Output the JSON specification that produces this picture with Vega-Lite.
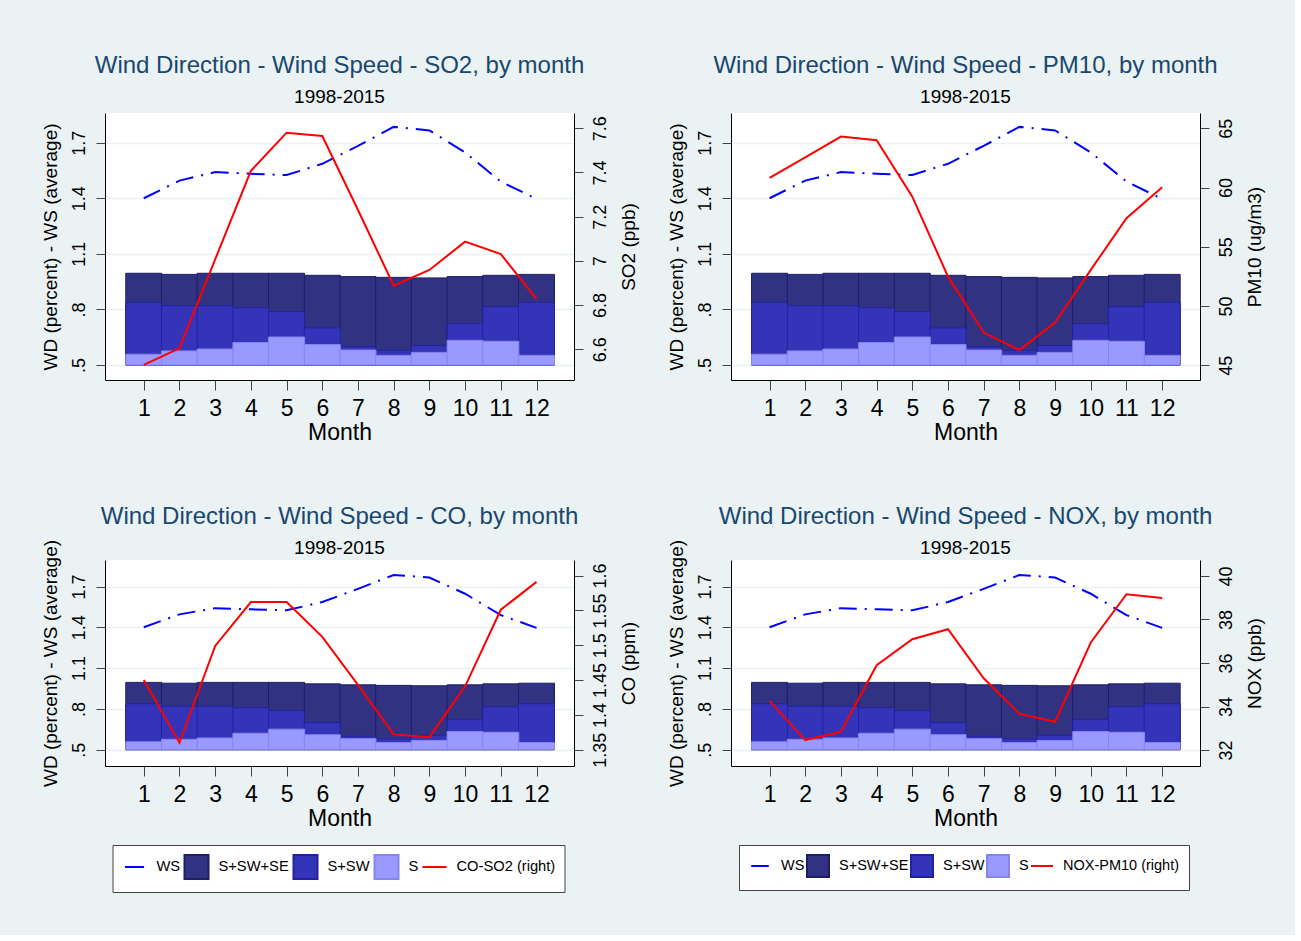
{
  "$schema": "https://vega.github.io/schema/vega-lite/v6.json",
  "background": "#EAF2F3",
  "padding": {"left": 40, "top": 54, "right": 31, "bottom": 42},
  "config": {
    "font": "Liberation Sans, Arial, sans-serif",
    "view": {"stroke": null, "fill": "#ffffff"},
    "title": {"anchor": "middle", "fontSize": 24, "fontWeight": "normal", "color": "#1a476f", "subtitleFontSize": 19, "subtitleColor": "#000000", "subtitlePadding": 10, "offset": 6},
    "axis": {"labelColor": "#000000", "titleColor": "#000000", "titleFontWeight": "normal", "tickColor": "#444444", "domainColor": "#000000", "domainWidth": 1, "tickWidth": 1}
  },
  "data": {"values": [
    {"month": 1, "ws": 1.400, "sswse": 0.995, "ssw": 0.838, "s": 0.558, "so2": 6.529, "pm10": 60.81, "co": 1.450, "nox": 34.26},
    {"month": 2, "ws": 1.495, "sswse": 0.989, "ssw": 0.820, "s": 0.576, "so2": 6.605, "pm10": 62.55, "co": 1.360, "nox": 32.46},
    {"month": 3, "ws": 1.541, "sswse": 0.995, "ssw": 0.820, "s": 0.586, "so2": 7.007, "pm10": 64.30, "co": 1.499, "nox": 32.84},
    {"month": 4, "ws": 1.532, "sswse": 0.995, "ssw": 0.809, "s": 0.621, "so2": 7.407, "pm10": 63.99, "co": 1.562, "nox": 35.90},
    {"month": 5, "ws": 1.525, "sswse": 0.995, "ssw": 0.788, "s": 0.651, "so2": 7.580, "pm10": 59.23, "co": 1.562, "nox": 37.09},
    {"month": 6, "ws": 1.586, "sswse": 0.984, "ssw": 0.700, "s": 0.610, "so2": 7.565, "pm10": 52.48, "co": 1.512, "nox": 37.55},
    {"month": 7, "ws": 1.683, "sswse": 0.977, "ssw": 0.599, "s": 0.581, "so2": 7.230, "pm10": 47.76, "co": 1.443, "nox": 35.30},
    {"month": 8, "ws": 1.785, "sswse": 0.973, "ssw": 0.579, "s": 0.552, "so2": 6.888, "pm10": 46.29, "co": 1.372, "nox": 33.67},
    {"month": 9, "ws": 1.766, "sswse": 0.970, "ssw": 0.606, "s": 0.568, "so2": 6.959, "pm10": 48.60, "co": 1.368, "nox": 33.30},
    {"month": 10, "ws": 1.647, "sswse": 0.977, "ssw": 0.723, "s": 0.633, "so2": 7.087, "pm10": 53.05, "co": 1.441, "nox": 36.94},
    {"month": 11, "ws": 1.490, "sswse": 0.984, "ssw": 0.815, "s": 0.628, "so2": 7.031, "pm10": 57.41, "co": 1.551, "nox": 39.16},
    {"month": 12, "ws": 1.396, "sswse": 0.989, "ssw": 0.838, "s": 0.552, "so2": 6.828, "pm10": 60.02, "co": 1.591, "nox": 38.98}
  ]},
  "columns": 2,
  "spacing": {"row": 61, "column": 28},
  "resolve": {"scale": {"fill": "independent", "stroke": "independent", "shape": "independent"}},
  "concat": [
    {
      "width": 469, "height": 267,
      "title": {"text": "Wind Direction - Wind Speed - SO2, by month", "subtitle": "1998-2015"},
      "encoding": {"x": {"field": "month", "type": "quantitative", "scale": {"domain": [0.054, 12.91], "nice": false, "zero": false}, "axis": {"values": [1,2,3,4,5,6,7,8,9,10,11,12], "title": "Month", "labelFontSize": 23, "titleFontSize": 23, "tickSize": 10, "labelPadding": 7, "titlePadding": 1, "grid": false, "labelFlush": false}}},
      "layer": [
        {"layer": [
          {"mark": {"type": "bar", "width": 36, "fill": "#323282", "stroke": "#1e1e66", "strokeWidth": 1}, "encoding": {"y": {"field": "sswse", "type": "quantitative", "scale": {"domain": [0.419, 1.86], "nice": false, "zero": false}, "axis": {"values": [0.5, 0.8, 1.1, 1.4, 1.7], "labelExpr": "replace(format(datum.value, '.1f'), '0.', '.')", "labelAngle": 270, "labelAlign": "center", "labelBaseline": "bottom", "labelFontSize": 18, "tickSize": 9, "labelPadding": 8, "grid": true, "gridColor": "#EAF2F3", "gridWidth": 1.5, "title": "WD (percent) - WS (average)", "titleFontSize": 19, "titlePadding": 10}}, "y2": {"datum": 0.5}}},
          {"mark": {"type": "bar", "width": 36, "fill": "#3434b9", "stroke": "#2222a0", "strokeWidth": 1}, "encoding": {"y": {"field": "ssw", "type": "quantitative", "scale": {"domain": [0.419, 1.86], "nice": false, "zero": false}, "axis": {"values": [0.5, 0.8, 1.1, 1.4, 1.7], "labelExpr": "replace(format(datum.value, '.1f'), '0.', '.')", "labelAngle": 270, "labelAlign": "center", "labelBaseline": "bottom", "labelFontSize": 18, "tickSize": 9, "labelPadding": 8, "grid": true, "gridColor": "#EAF2F3", "gridWidth": 1.5, "title": "WD (percent) - WS (average)", "titleFontSize": 19, "titlePadding": 10}}, "y2": {"datum": 0.5}}},
          {"mark": {"type": "bar", "width": 36, "fill": "#9999ff", "stroke": "#8585f0", "strokeWidth": 1}, "encoding": {"y": {"field": "s", "type": "quantitative", "scale": {"domain": [0.419, 1.86], "nice": false, "zero": false}, "axis": {"values": [0.5, 0.8, 1.1, 1.4, 1.7], "labelExpr": "replace(format(datum.value, '.1f'), '0.', '.')", "labelAngle": 270, "labelAlign": "center", "labelBaseline": "bottom", "labelFontSize": 18, "tickSize": 9, "labelPadding": 8, "grid": true, "gridColor": "#EAF2F3", "gridWidth": 1.5, "title": "WD (percent) - WS (average)", "titleFontSize": 19, "titlePadding": 10}}, "y2": {"datum": 0.5}}},
          {"mark": {"type": "line", "stroke": "#0000ff", "strokeWidth": 2, "strokeDash": [18, 8, 2, 8]}, "encoding": {"y": {"field": "ws", "type": "quantitative", "scale": {"domain": [0.419, 1.86], "nice": false, "zero": false}, "axis": {"values": [0.5, 0.8, 1.1, 1.4, 1.7], "labelExpr": "replace(format(datum.value, '.1f'), '0.', '.')", "labelAngle": 270, "labelAlign": "center", "labelBaseline": "bottom", "labelFontSize": 18, "tickSize": 9, "labelPadding": 8, "grid": true, "gridColor": "#EAF2F3", "gridWidth": 1.5, "title": "WD (percent) - WS (average)", "titleFontSize": 19, "titlePadding": 10}}}}
        ]},
        {"mark": {"type": "line", "stroke": "#ff0000", "strokeWidth": 2}, "encoding": {"y": {"field": "so2", "type": "quantitative", "scale": {"domain": [6.461, 7.669], "nice": false, "zero": false}, "axis": {"orient": "right", "values": [6.6, 6.8, 7, 7.2, 7.4, 7.6], "format": "~g", "labelAngle": 270, "labelAlign": "center", "labelBaseline": "top", "labelFontSize": 18, "tickSize": 9, "labelPadding": 8, "grid": false, "title": "SO2 (ppb)", "titleAngle": 270, "titleBaseline": "top", "titleFontSize": 19, "titlePadding": 10}}}}
      ],
      "resolve": {"scale": {"y": "independent"}}
    },
    {
      "width": 469, "height": 267,
      "title": {"text": "Wind Direction - Wind Speed - PM10, by month", "subtitle": "1998-2015"},
      "encoding": {"x": {"field": "month", "type": "quantitative", "scale": {"domain": [0.06, 12.92], "nice": false, "zero": false}, "axis": {"values": [1,2,3,4,5,6,7,8,9,10,11,12], "title": "Month", "labelFontSize": 23, "titleFontSize": 23, "tickSize": 10, "labelPadding": 7, "titlePadding": 1, "grid": false, "labelFlush": false}}},
      "layer": [
        {"layer": [
          {"mark": {"type": "bar", "width": 36, "fill": "#323282", "stroke": "#1e1e66", "strokeWidth": 1}, "encoding": {"y": {"field": "sswse", "type": "quantitative", "scale": {"domain": [0.419, 1.86], "nice": false, "zero": false}, "axis": {"values": [0.5, 0.8, 1.1, 1.4, 1.7], "labelExpr": "replace(format(datum.value, '.1f'), '0.', '.')", "labelAngle": 270, "labelAlign": "center", "labelBaseline": "bottom", "labelFontSize": 18, "tickSize": 9, "labelPadding": 8, "grid": true, "gridColor": "#EAF2F3", "gridWidth": 1.5, "title": "WD (percent) - WS (average)", "titleFontSize": 19, "titlePadding": 10}}, "y2": {"datum": 0.5}}},
          {"mark": {"type": "bar", "width": 36, "fill": "#3434b9", "stroke": "#2222a0", "strokeWidth": 1}, "encoding": {"y": {"field": "ssw", "type": "quantitative", "scale": {"domain": [0.419, 1.86], "nice": false, "zero": false}, "axis": {"values": [0.5, 0.8, 1.1, 1.4, 1.7], "labelExpr": "replace(format(datum.value, '.1f'), '0.', '.')", "labelAngle": 270, "labelAlign": "center", "labelBaseline": "bottom", "labelFontSize": 18, "tickSize": 9, "labelPadding": 8, "grid": true, "gridColor": "#EAF2F3", "gridWidth": 1.5, "title": "WD (percent) - WS (average)", "titleFontSize": 19, "titlePadding": 10}}, "y2": {"datum": 0.5}}},
          {"mark": {"type": "bar", "width": 36, "fill": "#9999ff", "stroke": "#8585f0", "strokeWidth": 1}, "encoding": {"y": {"field": "s", "type": "quantitative", "scale": {"domain": [0.419, 1.86], "nice": false, "zero": false}, "axis": {"values": [0.5, 0.8, 1.1, 1.4, 1.7], "labelExpr": "replace(format(datum.value, '.1f'), '0.', '.')", "labelAngle": 270, "labelAlign": "center", "labelBaseline": "bottom", "labelFontSize": 18, "tickSize": 9, "labelPadding": 8, "grid": true, "gridColor": "#EAF2F3", "gridWidth": 1.5, "title": "WD (percent) - WS (average)", "titleFontSize": 19, "titlePadding": 10}}, "y2": {"datum": 0.5}}},
          {"mark": {"type": "line", "stroke": "#0000ff", "strokeWidth": 2, "strokeDash": [18, 8, 2, 8]}, "encoding": {"y": {"field": "ws", "type": "quantitative", "scale": {"domain": [0.419, 1.86], "nice": false, "zero": false}, "axis": {"values": [0.5, 0.8, 1.1, 1.4, 1.7], "labelExpr": "replace(format(datum.value, '.1f'), '0.', '.')", "labelAngle": 270, "labelAlign": "center", "labelBaseline": "bottom", "labelFontSize": 18, "tickSize": 9, "labelPadding": 8, "grid": true, "gridColor": "#EAF2F3", "gridWidth": 1.5, "title": "WD (percent) - WS (average)", "titleFontSize": 19, "titlePadding": 10}}}}
        ]},
        {"mark": {"type": "line", "stroke": "#ff0000", "strokeWidth": 2}, "encoding": {"y": {"field": "pm10", "type": "quantitative", "scale": {"domain": [43.76, 66.29], "nice": false, "zero": false}, "axis": {"orient": "right", "values": [45, 50, 55, 60, 65], "format": "~g", "labelAngle": 270, "labelAlign": "center", "labelBaseline": "top", "labelFontSize": 18, "tickSize": 9, "labelPadding": 8, "grid": false, "title": "PM10 (ug/m3)", "titleAngle": 270, "titleBaseline": "top", "titleFontSize": 19, "titlePadding": 10}}}}
      ],
      "resolve": {"scale": {"y": "independent"}}
    },
    {
      "width": 469, "height": 206,
      "title": {"text": "Wind Direction - Wind Speed - CO, by month", "subtitle": "1998-2015", "offset": -19},
      "encoding": {"x": {"field": "month", "type": "quantitative", "scale": {"domain": [0.054, 12.91], "nice": false, "zero": false}, "axis": {"values": [1,2,3,4,5,6,7,8,9,10,11,12], "title": "Month", "labelFontSize": 23, "titleFontSize": 23, "tickSize": 10, "labelPadding": 7, "titlePadding": 1, "grid": false, "labelFlush": false}}},
      "layer": [
        {"layer": [
          {"mark": {"type": "bar", "width": 36, "fill": "#323282", "stroke": "#1e1e66", "strokeWidth": 1}, "encoding": {"y": {"field": "sswse", "type": "quantitative", "scale": {"domain": [0.38, 1.895], "nice": false, "zero": false}, "axis": {"values": [0.5, 0.8, 1.1, 1.4, 1.7], "labelExpr": "replace(format(datum.value, '.1f'), '0.', '.')", "labelAngle": 270, "labelAlign": "center", "labelBaseline": "bottom", "labelFontSize": 18, "tickSize": 9, "labelPadding": 8, "grid": true, "gridColor": "#EAF2F3", "gridWidth": 1.5, "title": "WD (percent) - WS (average)", "titleFontSize": 19, "titlePadding": 10}}, "y2": {"datum": 0.5}}},
          {"mark": {"type": "bar", "width": 36, "fill": "#3434b9", "stroke": "#2222a0", "strokeWidth": 1}, "encoding": {"y": {"field": "ssw", "type": "quantitative", "scale": {"domain": [0.38, 1.895], "nice": false, "zero": false}, "axis": {"values": [0.5, 0.8, 1.1, 1.4, 1.7], "labelExpr": "replace(format(datum.value, '.1f'), '0.', '.')", "labelAngle": 270, "labelAlign": "center", "labelBaseline": "bottom", "labelFontSize": 18, "tickSize": 9, "labelPadding": 8, "grid": true, "gridColor": "#EAF2F3", "gridWidth": 1.5, "title": "WD (percent) - WS (average)", "titleFontSize": 19, "titlePadding": 10}}, "y2": {"datum": 0.5}}},
          {"mark": {"type": "bar", "width": 36, "fill": "#9999ff", "stroke": "#8585f0", "strokeWidth": 1}, "encoding": {"y": {"field": "s", "type": "quantitative", "scale": {"domain": [0.38, 1.895], "nice": false, "zero": false}, "axis": {"values": [0.5, 0.8, 1.1, 1.4, 1.7], "labelExpr": "replace(format(datum.value, '.1f'), '0.', '.')", "labelAngle": 270, "labelAlign": "center", "labelBaseline": "bottom", "labelFontSize": 18, "tickSize": 9, "labelPadding": 8, "grid": true, "gridColor": "#EAF2F3", "gridWidth": 1.5, "title": "WD (percent) - WS (average)", "titleFontSize": 19, "titlePadding": 10}}, "y2": {"datum": 0.5}}},
          {"mark": {"type": "line", "stroke": "#0000ff", "strokeWidth": 2, "strokeDash": [18, 8, 2, 8]}, "encoding": {"y": {"field": "ws", "type": "quantitative", "scale": {"domain": [0.38, 1.895], "nice": false, "zero": false}, "axis": {"values": [0.5, 0.8, 1.1, 1.4, 1.7], "labelExpr": "replace(format(datum.value, '.1f'), '0.', '.')", "labelAngle": 270, "labelAlign": "center", "labelBaseline": "bottom", "labelFontSize": 18, "tickSize": 9, "labelPadding": 8, "grid": true, "gridColor": "#EAF2F3", "gridWidth": 1.5, "title": "WD (percent) - WS (average)", "titleFontSize": 19, "titlePadding": 10}}}}
        ]},
        {"mark": {"type": "line", "stroke": "#ff0000", "strokeWidth": 2}, "encoding": {"y": {"field": "co", "type": "quantitative", "scale": {"domain": [1.3266, 1.6224], "nice": false, "zero": false}, "axis": {"orient": "right", "values": [1.35, 1.4, 1.45, 1.5, 1.55, 1.6], "format": "~g", "labelAngle": 270, "labelAlign": "center", "labelBaseline": "top", "labelFontSize": 18, "tickSize": 9, "labelPadding": 8, "grid": false, "title": "CO (ppm)", "titleAngle": 270, "titleBaseline": "top", "titleFontSize": 19, "titlePadding": 10}}}},
        {"transform": [{"filter": "false"}],
         "mark": {"type": "point", "filled": true, "opacity": 1, "strokeWidth": 2},
         "encoding": {
           "fill": {"datum": "WS", "scale": {"domain": ["WS", "S+SW+SE", "S+SW", "S", "CO-SO2 (right)"], "range": ["#0000ff", "#323282", "#3434b9", "#9999ff", "#ff0000"]}, "legend": {"orient": "none", "legendX": 7.5, "legendY": 285, "direction": "horizontal", "columns": 5, "title": null, "labelFontSize": 14.7, "labelColor": "#000000", "symbolSize": 576, "symbolStrokeWidth": 2, "padding": 9, "strokeColor": "#444444", "fillColor": "#ffffff", "columnPadding": 0, "labelOffset": 9}},
           "stroke": {"datum": "WS", "scale": {"domain": ["WS", "S+SW+SE", "S+SW", "S", "CO-SO2 (right)"], "range": ["#0000ff", "#1e1e66", "#2222a0", "#8585f0", "#ff0000"]}, "legend": {"orient": "none", "legendX": 7.5, "legendY": 285, "direction": "horizontal", "columns": 5, "title": null, "labelFontSize": 14.7, "labelColor": "#000000", "symbolSize": 576, "symbolStrokeWidth": 2, "padding": 9, "strokeColor": "#444444", "fillColor": "#ffffff", "columnPadding": 0, "labelOffset": 9}},
           "shape": {"datum": "WS", "scale": {"domain": ["WS", "S+SW+SE", "S+SW", "S", "CO-SO2 (right)"], "range": ["M-1,-1M1,1M-0.8,0H0.8", "square", "square", "square", "M-1,-1M1,1M-1,0H1"]}, "legend": {"orient": "none", "legendX": 7.5, "legendY": 285, "direction": "horizontal", "columns": 5, "title": null, "labelFontSize": 14.7, "labelColor": "#000000", "symbolSize": 576, "symbolStrokeWidth": 2, "padding": 9, "strokeColor": "#444444", "fillColor": "#ffffff", "columnPadding": 0, "labelOffset": 9}}
         }}
      ],
      "resolve": {"scale": {"y": "independent"}}
    },
    {
      "width": 469, "height": 206,
      "title": {"text": "Wind Direction - Wind Speed - NOX, by month", "subtitle": "1998-2015", "offset": -19},
      "encoding": {"x": {"field": "month", "type": "quantitative", "scale": {"domain": [0.06, 12.92], "nice": false, "zero": false}, "axis": {"values": [1,2,3,4,5,6,7,8,9,10,11,12], "title": "Month", "labelFontSize": 23, "titleFontSize": 23, "tickSize": 10, "labelPadding": 7, "titlePadding": 1, "grid": false, "labelFlush": false}}},
      "layer": [
        {"layer": [
          {"mark": {"type": "bar", "width": 36, "fill": "#323282", "stroke": "#1e1e66", "strokeWidth": 1}, "encoding": {"y": {"field": "sswse", "type": "quantitative", "scale": {"domain": [0.38, 1.895], "nice": false, "zero": false}, "axis": {"values": [0.5, 0.8, 1.1, 1.4, 1.7], "labelExpr": "replace(format(datum.value, '.1f'), '0.', '.')", "labelAngle": 270, "labelAlign": "center", "labelBaseline": "bottom", "labelFontSize": 18, "tickSize": 9, "labelPadding": 8, "grid": true, "gridColor": "#EAF2F3", "gridWidth": 1.5, "title": "WD (percent) - WS (average)", "titleFontSize": 19, "titlePadding": 10}}, "y2": {"datum": 0.5}}},
          {"mark": {"type": "bar", "width": 36, "fill": "#3434b9", "stroke": "#2222a0", "strokeWidth": 1}, "encoding": {"y": {"field": "ssw", "type": "quantitative", "scale": {"domain": [0.38, 1.895], "nice": false, "zero": false}, "axis": {"values": [0.5, 0.8, 1.1, 1.4, 1.7], "labelExpr": "replace(format(datum.value, '.1f'), '0.', '.')", "labelAngle": 270, "labelAlign": "center", "labelBaseline": "bottom", "labelFontSize": 18, "tickSize": 9, "labelPadding": 8, "grid": true, "gridColor": "#EAF2F3", "gridWidth": 1.5, "title": "WD (percent) - WS (average)", "titleFontSize": 19, "titlePadding": 10}}, "y2": {"datum": 0.5}}},
          {"mark": {"type": "bar", "width": 36, "fill": "#9999ff", "stroke": "#8585f0", "strokeWidth": 1}, "encoding": {"y": {"field": "s", "type": "quantitative", "scale": {"domain": [0.38, 1.895], "nice": false, "zero": false}, "axis": {"values": [0.5, 0.8, 1.1, 1.4, 1.7], "labelExpr": "replace(format(datum.value, '.1f'), '0.', '.')", "labelAngle": 270, "labelAlign": "center", "labelBaseline": "bottom", "labelFontSize": 18, "tickSize": 9, "labelPadding": 8, "grid": true, "gridColor": "#EAF2F3", "gridWidth": 1.5, "title": "WD (percent) - WS (average)", "titleFontSize": 19, "titlePadding": 10}}, "y2": {"datum": 0.5}}},
          {"mark": {"type": "line", "stroke": "#0000ff", "strokeWidth": 2, "strokeDash": [18, 8, 2, 8]}, "encoding": {"y": {"field": "ws", "type": "quantitative", "scale": {"domain": [0.38, 1.895], "nice": false, "zero": false}, "axis": {"values": [0.5, 0.8, 1.1, 1.4, 1.7], "labelExpr": "replace(format(datum.value, '.1f'), '0.', '.')", "labelAngle": 270, "labelAlign": "center", "labelBaseline": "bottom", "labelFontSize": 18, "tickSize": 9, "labelPadding": 8, "grid": true, "gridColor": "#EAF2F3", "gridWidth": 1.5, "title": "WD (percent) - WS (average)", "titleFontSize": 19, "titlePadding": 10}}}}
        ]},
        {"mark": {"type": "line", "stroke": "#ff0000", "strokeWidth": 2}, "encoding": {"y": {"field": "nox", "type": "quantitative", "scale": {"domain": [31.27, 40.73], "nice": false, "zero": false}, "axis": {"orient": "right", "values": [32, 34, 36, 38, 40], "format": "~g", "labelAngle": 270, "labelAlign": "center", "labelBaseline": "top", "labelFontSize": 18, "tickSize": 9, "labelPadding": 8, "grid": false, "title": "NOX (ppb)", "titleAngle": 270, "titleBaseline": "top", "titleFontSize": 19, "titlePadding": 10}}}},
        {"transform": [{"filter": "false"}],
         "mark": {"type": "point", "filled": true, "opacity": 1, "strokeWidth": 2},
         "encoding": {
           "fill": {"datum": "WS", "scale": {"domain": ["WS", "S+SW+SE", "S+SW", "S", "NOX-PM10 (right)"], "range": ["#0000ff", "#323282", "#3434b9", "#9999ff", "#ff0000"]}, "legend": {"orient": "none", "legendX": 8, "legendY": 285, "direction": "horizontal", "columns": 5, "title": null, "labelFontSize": 14.5, "labelColor": "#000000", "symbolSize": 484, "symbolStrokeWidth": 2, "padding": 9, "strokeColor": "#444444", "fillColor": "#ffffff", "columnPadding": -2, "labelOffset": 9}},
           "stroke": {"datum": "WS", "scale": {"domain": ["WS", "S+SW+SE", "S+SW", "S", "NOX-PM10 (right)"], "range": ["#0000ff", "#1e1e66", "#2222a0", "#8585f0", "#ff0000"]}, "legend": {"orient": "none", "legendX": 8, "legendY": 285, "direction": "horizontal", "columns": 5, "title": null, "labelFontSize": 14.5, "labelColor": "#000000", "symbolSize": 484, "symbolStrokeWidth": 2, "padding": 9, "strokeColor": "#444444", "fillColor": "#ffffff", "columnPadding": -2, "labelOffset": 9}},
           "shape": {"datum": "WS", "scale": {"domain": ["WS", "S+SW+SE", "S+SW", "S", "NOX-PM10 (right)"], "range": ["M-1,-1M1,1M-0.8,0H0.8", "square", "square", "square", "M-1,-1M1,1M-1,0H1"]}, "legend": {"orient": "none", "legendX": 8, "legendY": 285, "direction": "horizontal", "columns": 5, "title": null, "labelFontSize": 14.5, "labelColor": "#000000", "symbolSize": 484, "symbolStrokeWidth": 2, "padding": 9, "strokeColor": "#444444", "fillColor": "#ffffff", "columnPadding": -2, "labelOffset": 9}}
         }}
      ],
      "resolve": {"scale": {"y": "independent"}}
    }
  ]
}
